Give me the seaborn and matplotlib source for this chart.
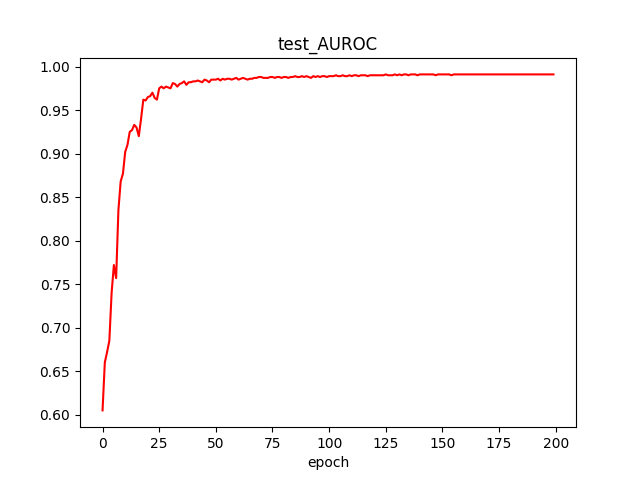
import matplotlib
matplotlib.use("Agg")
import matplotlib.pyplot as plt
import seaborn as sns
import pandas as pd

auroc = [0.605,0.660,0.672,0.685,0.740,0.772,0.757,0.835,0.868,0.877,
         0.902,0.910,0.925,0.927,0.933,0.930,0.920,0.940,0.962,0.961,
         0.965,0.966,0.970,0.964,0.962,0.975,0.977,0.975,0.977,0.976,
         0.975,0.981,0.980,0.977,0.980,0.981,0.983,0.979,0.982,0.982,
         0.983,0.983,0.984,0.983,0.982,0.985,0.984,0.982,0.985,0.985,
         0.985,0.986,0.984,0.986,0.985,0.986,0.986,0.985,0.986,0.987,
         0.985,0.986,0.987,0.986,0.985,0.986,0.986,0.987,0.987,0.988,
         0.988,0.987,0.987,0.987,0.988,0.988,0.987,0.988,0.988,0.987,
         0.988,0.988,0.987,0.988,0.988,0.989,0.988,0.988,0.989,0.988,
         0.989,0.988,0.987,0.989,0.988,0.989,0.988,0.989,0.989,0.988,
         0.989,0.989,0.989,0.990,0.989,0.989,0.990,0.989,0.989,0.990,
         0.989,0.990,0.990,0.989,0.990,0.990,0.990,0.989,0.990,0.990,
         0.990,0.990,0.990,0.990,0.990,0.991,0.990,0.990,0.990,0.991,
         0.990,0.991,0.990,0.991,0.991,0.990,0.991,0.991,0.991,0.990,
         0.991,0.991,0.991,0.991,0.991,0.991,0.991,0.990,0.991,0.991,
         0.991,0.991,0.991,0.991,0.990,0.991,0.991,0.991,0.991,0.991,
         0.991,0.991,0.991,0.991,0.991,0.991,0.991,0.991,0.991,0.991,
         0.991,0.991,0.991,0.991,0.991,0.991,0.991,0.991,0.991,0.991,
         0.991,0.991,0.991,0.991,0.991,0.991,0.991,0.991,0.991,0.991,
         0.991,0.991,0.991,0.991,0.991,0.991,0.991,0.991,0.991,0.991]
epochs = list(range(len(auroc)))

df = pd.DataFrame({"epoch": epochs, "test_AUROC": auroc})
fig, ax = plt.subplots(figsize=(6.4, 4.8), dpi=100)
sns.lineplot(data=df, x="epoch", y="test_AUROC", color="red", ax=ax)
ax.set_title("test_AUROC")
ax.set_ylabel("")
ax.set_xlabel("epoch")
ax.set_yticks([0.60,0.65,0.70,0.75,0.80,0.85,0.90,0.95,1.00])
fig.savefig("out.png")
